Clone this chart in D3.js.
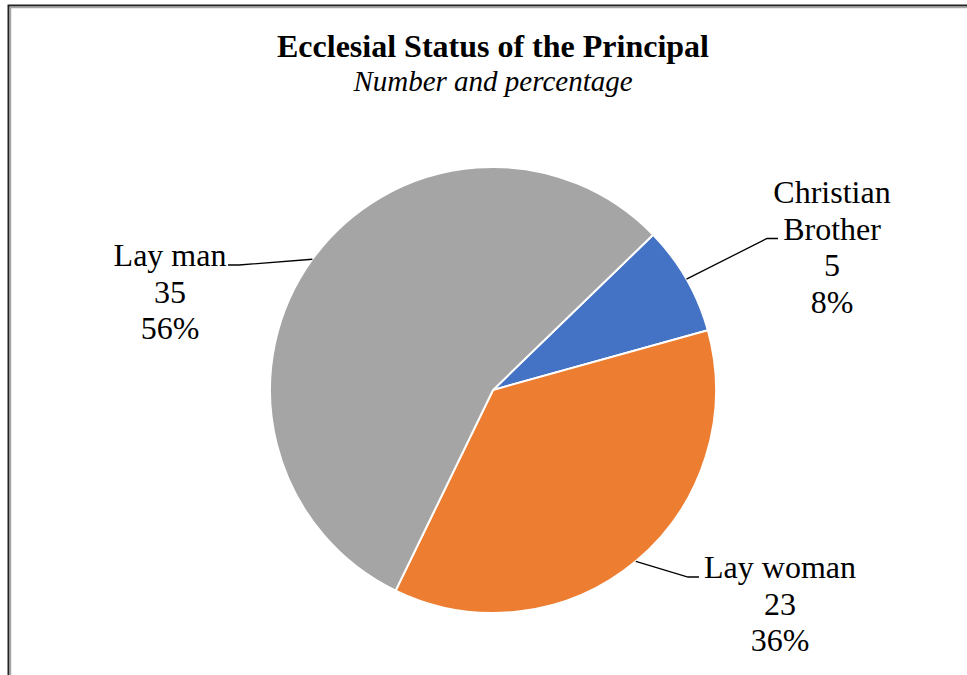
<!DOCTYPE html>
<html>
<head>
<meta charset="utf-8">
<script src="https://cdn.jsdelivr.net/npm/d3@7"></script>
<style>
  body { margin: 0; background: #fff; }
  text { font-family: "Liberation Serif", "Times New Roman", serif; fill: #000; }
</style>
</head>
<body>
<svg width="967" height="675"></svg>
<script>
// data
var categories = ["Christian Brother", "Lay woman", "Lay man"];
var counts = [5, 23, 35];
var percents = ["8%", "36%", "56%"];
var colors = ["#4472c4", "#ed7d31", "#a5a5a5"];

var width = 967, height = 675;
var svg = d3.select("svg");

// frame (double line)
svg.append("rect")
  .attr("x", 8.5).attr("y", 5.5)
  .attr("width", 1000).attr("height", 700)
  .attr("fill", "none").attr("stroke", "#222").attr("stroke-width", 2);
svg.append("rect")
  .attr("x", 10.5).attr("y", 7.5)
  .attr("width", 1000).attr("height", 700)
  .attr("fill", "none").attr("stroke", "#a6a6a6").attr("stroke-width", 1.5);

// title
svg.append("text")
  .attr("x", 493).attr("y", 57)
  .attr("text-anchor", "middle")
  .style("font-size", "32px").style("font-weight", "bold")
  .text("Ecclesial Status of the Principal");
svg.append("text")
  .attr("x", 493).attr("y", 91)
  .attr("text-anchor", "middle")
  .style("font-size", "29px").style("font-style", "italic")
  .text("Number and percentage");

var cx = 493, cy = 390, radius = 223;
var startA = 0.801;

var pie = d3.pie().sort(null).value(d => d)
  .startAngle(startA).endAngle(startA + 2 * Math.PI);
var arcs = pie(counts);
var arc = d3.arc().innerRadius(0).outerRadius(radius);

var g = svg.append("g").attr("transform", `translate(${cx},${cy})`);
g.selectAll("path")
  .data(arcs)
  .enter()
  .append("path")
  .attr("d", arc)
  .attr("fill", (d, i) => colors[i])
  .attr("stroke", "#fff")
  .attr("stroke-width", 2);

// labels: text anchor position + leader elbow (relative to centre)
var labelPos = [
  {x: 339, y: -187, ex: 274, ey: -150, lines: ["Christian", "Brother"]},
  {x: 287, y: 188, ex: 195, ey: 188, lines: ["Lay woman"]},
  {x: -323, y: -124, ex: -254, ey: -125, lines: ["Lay man"]}
];
var lineH = 36.5;

arcs.forEach(function(d, i) {
  var p = labelPos[i];
  var mid = (d.startAngle + d.endAngle) / 2;
  var edge = [Math.sin(mid) * radius, -Math.cos(mid) * radius];
  var lines = p.lines.concat([String(counts[i]), percents[i]]);
  var t = g.append("text")
    .attr("text-anchor", "middle")
    .style("font-size", "32px");
  lines.forEach(function(s, j) {
    t.append("tspan").attr("x", p.x).attr("y", p.y + j * lineH).text(s);
  });
  // leader line, horizontal bit at the baseline of the last name line
  var ly = p.y + (p.lines.length - 1) * lineH - 1;
  var side = p.ex > 0 ? 1 : -1;
  var elbowEnd = p.ex + side * 11;
  g.append("polyline")
    .attr("points", [[edge[0], edge[1]], [p.ex, ly], [elbowEnd, ly]].map(q => q.join(",")).join(" "))
    .attr("fill", "none").attr("stroke", "#000").attr("stroke-width", 1.3);
});
</script>
</body>
</html>
